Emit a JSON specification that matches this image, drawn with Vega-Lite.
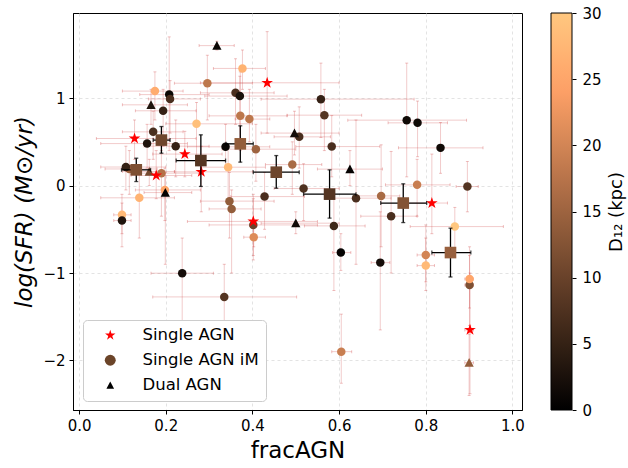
{
  "$schema": "https://vega.github.io/schema/vega-lite/v6.json",
  "width": 449,
  "height": 397,
  "autosize": {"type": "none"},
  "padding": {"left": 73, "top": 13, "right": 106, "bottom": 58},
  "background": "white",
  "config": {
    "font": "DejaVu Sans",
    "view": {"stroke": "black", "strokeWidth": 1},
    "axis": {"domainColor": "black", "tickColor": "black", "labelColor": "black", "titleColor": "black", "labelFont": "DejaVu Sans", "titleFont": "DejaVu Sans", "labelFontSize": 15, "titleFontSize": 23, "titleFontWeight": "normal", "tickSize": 4, "labelPadding": 4, "grid": true, "gridColor": "#dcdcdc", "gridDash": [3, 3], "gridWidth": 0.8},
    "legend": {"labelFont": "DejaVu Sans", "titleFont": "DejaVu Sans", "labelColor": "black", "titleColor": "black"}
  },
  "datasets": {
    "pts": [
      {"t": "Single AGN", "x": 0.128, "y": 0.538, "d": null, "xl": 0.04, "xh": 0.27, "yl": 0.30, "yh": 0.75},
      {"t": "Single AGN", "x": 0.178, "y": 0.115, "d": null, "xl": 0.12, "xh": 0.26, "yl": -0.15, "yh": 0.40},
      {"t": "Single AGN", "x": 0.244, "y": 0.36, "d": null, "xl": 0.17, "xh": 0.33, "yl": 0.10, "yh": 0.62},
      {"t": "Single AGN", "x": 0.282, "y": 0.157, "d": null, "xl": 0.22, "xh": 0.40, "yl": -0.30, "yh": 0.45},
      {"t": "Single AGN", "x": 0.434, "y": 1.175, "d": null, "xl": 0.28, "xh": 0.60, "yl": 0.60, "yh": 1.76},
      {"t": "Single AGN", "x": 0.402, "y": -0.41, "d": null, "xl": 0.25, "xh": 0.55, "yl": -0.80, "yh": -0.15},
      {"t": "Single AGN", "x": 0.814, "y": -0.20, "d": null, "xl": 0.74, "xh": 0.85, "yl": -0.55, "yh": 0.36},
      {"t": "Single AGN", "x": 0.902, "y": -1.65, "d": null, "xl": 0.89, "xh": 0.91, "yl": -2.38, "yh": -1.0},
      {"t": "Dual AGN", "x": 0.318, "y": 1.60, "d": 1, "xl": 0.277, "xh": 0.358, "yl": 1.55, "yh": 1.65},
      {"t": "Dual AGN", "x": 0.166, "y": 0.923, "d": 3, "xl": 0.10, "xh": 0.25, "yl": 0.70, "yh": 1.10},
      {"t": "Dual AGN", "x": 0.162, "y": 0.16, "d": 11, "xl": 0.10, "xh": 0.22, "yl": 0.0, "yh": 0.30},
      {"t": "Dual AGN", "x": 0.497, "y": 0.60, "d": 2, "xl": 0.42, "xh": 0.60, "yl": 0.35, "yh": 0.85},
      {"t": "Dual AGN", "x": 0.199, "y": -0.08, "d": 0.5, "xl": 0.15, "xh": 0.26, "yl": -0.90, "yh": 0.15},
      {"t": "Dual AGN", "x": 0.50, "y": -0.43, "d": 1.5, "xl": 0.42, "xh": 0.60, "yl": -0.55, "yh": -0.30},
      {"t": "Dual AGN", "x": 0.90, "y": -2.025, "d": 14, "xl": 0.89, "xh": 0.91, "yl": -2.40, "yh": -1.70},
      {"t": "Dual AGN", "x": 0.625, "y": 0.188, "d": 0.5, "xl": 0.55, "xh": 0.70, "yl": 0.0, "yh": 0.40},
      {"t": "Single AGN iM", "x": 0.377, "y": 1.339, "d": 27, "xl": 0.31, "xh": 0.43, "yl": 1.10, "yh": 1.55},
      {"t": "Single AGN iM", "x": 0.296, "y": 1.17, "d": 18, "xl": 0.22, "xh": 0.40, "yl": 0.75, "yh": 1.49},
      {"t": "Single AGN iM", "x": 0.175, "y": 1.08, "d": 26, "xl": 0.10, "xh": 0.24, "yl": 0.75, "yh": 1.30},
      {"t": "Single AGN iM", "x": 0.208, "y": 1.04, "d": 1, "xl": 0.14, "xh": 0.30, "yl": 0.40, "yh": 1.70},
      {"t": "Single AGN iM", "x": 0.21, "y": 0.99, "d": 7, "xl": 0.16, "xh": 0.28, "yl": 0.60, "yh": 1.20},
      {"t": "Single AGN iM", "x": 0.361, "y": 1.06, "d": 7, "xl": 0.28, "xh": 0.45, "yl": 0.70, "yh": 1.45},
      {"t": "Single AGN iM", "x": 0.371, "y": 1.023, "d": 2.5, "xl": 0.29, "xh": 0.48, "yl": 0.50, "yh": 1.25},
      {"t": "Single AGN iM", "x": 0.194, "y": 0.855, "d": 5, "xl": 0.13, "xh": 0.27, "yl": 0.45, "yh": 1.10},
      {"t": "Single AGN iM", "x": 0.271, "y": 0.706, "d": 29, "xl": 0.20, "xh": 0.40, "yl": 0.30, "yh": 0.95},
      {"t": "Single AGN iM", "x": 0.372, "y": 0.797, "d": 18, "xl": 0.30, "xh": 0.48, "yl": 0.40, "yh": 1.30},
      {"t": "Single AGN iM", "x": 0.393, "y": 0.76, "d": 18, "xl": 0.36, "xh": 0.44, "yl": 0.50, "yh": 1.10},
      {"t": "Single AGN iM", "x": 0.171, "y": 0.614, "d": 7, "xl": 0.10, "xh": 0.24, "yl": 0.30, "yh": 0.85},
      {"t": "Single AGN iM", "x": 0.157, "y": 0.48, "d": 3, "xl": 0.05, "xh": 0.25, "yl": 0.20, "yh": 0.70},
      {"t": "Single AGN iM", "x": 0.223, "y": 0.45, "d": 5, "xl": 0.15, "xh": 0.30, "yl": 0.10, "yh": 0.75},
      {"t": "Single AGN iM", "x": 0.338, "y": 0.443, "d": 1, "xl": 0.25, "xh": 0.44, "yl": 0.20, "yh": 0.70},
      {"t": "Single AGN iM", "x": 0.408, "y": 0.416, "d": 15, "xl": 0.33, "xh": 0.50, "yl": 0.05, "yh": 0.70},
      {"t": "Single AGN iM", "x": 0.116, "y": 0.19, "d": 15, "xl": 0.06, "xh": 0.18, "yl": -0.10, "yh": 0.40},
      {"t": "Single AGN iM", "x": 0.108, "y": 0.212, "d": 5, "xl": 0.05, "xh": 0.20, "yl": -0.05, "yh": 0.45},
      {"t": "Single AGN iM", "x": 0.19, "y": 0.142, "d": 17, "xl": 0.12, "xh": 0.28, "yl": -0.35, "yh": 0.40},
      {"t": "Single AGN iM", "x": 0.344, "y": 0.21, "d": 28, "xl": 0.28, "xh": 0.43, "yl": -0.20, "yh": 0.45},
      {"t": "Single AGN iM", "x": 0.492, "y": 0.24, "d": 16, "xl": 0.43, "xh": 0.56, "yl": -0.10, "yh": 0.50},
      {"t": "Single AGN iM", "x": 0.518, "y": -0.034, "d": 7.5, "xl": 0.45, "xh": 0.60, "yl": -0.40, "yh": 0.25},
      {"t": "Single AGN iM", "x": 0.198, "y": -0.05, "d": 25, "xl": 0.13, "xh": 0.28, "yl": -0.40, "yh": 0.20},
      {"t": "Single AGN iM", "x": 0.139, "y": -0.14, "d": 27, "xl": 0.05, "xh": 0.22, "yl": -0.60, "yh": 0.15},
      {"t": "Single AGN iM", "x": 0.428, "y": -0.126, "d": 7, "xl": 0.35, "xh": 0.52, "yl": -0.50, "yh": 0.15},
      {"t": "Single AGN iM", "x": 0.347, "y": -0.178, "d": 14, "xl": 0.28, "xh": 0.45, "yl": -0.60, "yh": 0.15},
      {"t": "Single AGN iM", "x": 0.352, "y": -0.267, "d": 14, "xl": 0.30, "xh": 0.42, "yl": -1.00, "yh": -0.05},
      {"t": "Single AGN iM", "x": 0.558, "y": 0.988, "d": 5, "xl": 0.42, "xh": 0.773, "yl": 0.55, "yh": 1.40},
      {"t": "Single AGN iM", "x": 0.566, "y": 0.805, "d": 8, "xl": 0.48, "xh": 0.652, "yl": 0.40, "yh": 1.10},
      {"t": "Single AGN iM", "x": 0.508, "y": 0.557, "d": 7, "xl": 0.45, "xh": 0.58, "yl": 0.20, "yh": 0.90},
      {"t": "Single AGN iM", "x": 0.583, "y": 0.446, "d": 7, "xl": 0.50, "xh": 0.694, "yl": 0.10, "yh": 0.80},
      {"t": "Single AGN iM", "x": 0.756, "y": 0.748, "d": 1.5, "xl": 0.62, "xh": 0.894, "yl": 0.10, "yh": 1.40},
      {"t": "Single AGN iM", "x": 0.781, "y": 0.717, "d": 1.5, "xl": 0.713, "xh": 0.85, "yl": 0.33, "yh": 0.966},
      {"t": "Single AGN iM", "x": 0.834, "y": 0.431, "d": 1.5, "xl": 0.737, "xh": 0.932, "yl": 0.14, "yh": 0.72},
      {"t": "Single AGN iM", "x": 0.639, "y": -0.144, "d": 7, "xl": 0.57, "xh": 0.72, "yl": -0.90, "yh": 0.75},
      {"t": "Single AGN iM", "x": 0.697, "y": -0.118, "d": 16, "xl": 0.64, "xh": 0.74, "yl": -0.70, "yh": 0.466},
      {"t": "Single AGN iM", "x": 0.78, "y": 0.008, "d": 19, "xl": 0.707, "xh": 0.856, "yl": -0.35, "yh": 0.30},
      {"t": "Single AGN iM", "x": 0.896, "y": -0.011, "d": 8, "xl": 0.87, "xh": 0.921, "yl": -0.30, "yh": 0.275},
      {"t": "Single AGN iM", "x": 0.72, "y": -0.35, "d": 7, "xl": 0.65, "xh": 0.78, "yl": -1.00, "yh": 0.39},
      {"t": "Single AGN iM", "x": 0.588, "y": -0.461, "d": 6, "xl": 0.52, "xh": 0.66, "yl": -1.20, "yh": -0.10},
      {"t": "Single AGN iM", "x": 0.867, "y": -0.469, "d": 30, "xl": 0.764, "xh": 0.979, "yl": -0.75, "yh": -0.25},
      {"t": "Single AGN iM", "x": 0.604, "y": -0.766, "d": 0.5, "xl": 0.585, "xh": 0.627, "yl": -0.97, "yh": -0.55},
      {"t": "Single AGN iM", "x": 0.695, "y": -0.881, "d": 2, "xl": 0.674, "xh": 0.717, "yl": -1.65, "yh": -0.30},
      {"t": "Single AGN iM", "x": 0.80, "y": -0.793, "d": 20, "xl": 0.78, "xh": 0.82, "yl": -1.10, "yh": -0.45},
      {"t": "Single AGN iM", "x": 0.80, "y": -0.915, "d": 28, "xl": 0.78, "xh": 0.82, "yl": -1.20, "yh": -0.60},
      {"t": "Single AGN iM", "x": 0.901, "y": -1.136, "d": 12, "xl": 0.89, "xh": 0.91, "yl": -1.60, "yh": -0.80},
      {"t": "Single AGN iM", "x": 0.901, "y": -1.067, "d": 25, "xl": 0.89, "xh": 0.91, "yl": -1.40, "yh": -0.70},
      {"t": "Single AGN iM", "x": 0.605, "y": -1.899, "d": 19, "xl": 0.583, "xh": 0.629, "yl": -2.26, "yh": -1.47},
      {"t": "Single AGN iM", "x": 0.099, "y": -0.335, "d": 28, "xl": 0.08, "xh": 0.12, "yl": -0.55, "yh": -0.10},
      {"t": "Single AGN iM", "x": 0.099, "y": -0.40, "d": 3, "xl": 0.08, "xh": 0.12, "yl": -0.70, "yh": -0.20},
      {"t": "Single AGN iM", "x": 0.402, "y": -0.45, "d": 10, "xl": 0.30, "xh": 0.55, "yl": -0.85, "yh": -0.10},
      {"t": "Single AGN iM", "x": 0.403, "y": -0.59, "d": 21, "xl": 0.38, "xh": 0.43, "yl": -0.70, "yh": -0.45},
      {"t": "Single AGN iM", "x": 0.238, "y": -1.002, "d": 2, "xl": 0.166, "xh": 0.31, "yl": -1.90, "yh": -0.60},
      {"t": "Single AGN iM", "x": 0.335, "y": -1.273, "d": 8, "xl": 0.17, "xh": 0.502, "yl": -1.60, "yh": -0.90}
    ],
    "bins": [
      {"x": 0.132, "y": 0.18, "d": 12, "xl": 0.098, "xh": 0.165, "yl": 0.046, "yh": 0.313},
      {"x": 0.19, "y": 0.52, "d": 10.5, "xl": 0.171, "xh": 0.21, "yl": 0.37, "yh": 0.675},
      {"x": 0.281, "y": 0.286, "d": 8, "xl": 0.224, "xh": 0.338, "yl": -0.01, "yh": 0.58},
      {"x": 0.372, "y": 0.477, "d": 14, "xl": 0.339, "xh": 0.402, "yl": 0.268, "yh": 0.683},
      {"x": 0.455, "y": 0.153, "d": 10.5, "xl": 0.402, "xh": 0.508, "yl": -0.03, "yh": 0.343},
      {"x": 0.578, "y": -0.098, "d": 8, "xl": 0.518, "xh": 0.639, "yl": -0.373, "yh": 0.18},
      {"x": 0.748, "y": -0.20, "d": 12.5, "xl": 0.696, "xh": 0.802, "yl": -0.423, "yh": 0.02},
      {"x": 0.857, "y": -0.766, "d": 14.5, "xl": 0.814, "xh": 0.904, "yl": -1.045, "yh": -0.487}
    ]
  },
  "layer": [
    {
      "layer": [
        {
          "data": {"name": "pts"},
          "layer": [
            {
              "mark": {"type": "rule", "color": "#cc3333", "opacity": 0.25, "strokeWidth": 1},
              "encoding": {
                "x": {"field": "xl", "type": "quantitative", "title": "fracAGN", "scale": {"domain": [-0.014, 1.022], "nice": false, "zero": false}, "axis": {"values": [0, 0.2, 0.4, 0.6, 0.8, 1.0], "format": ".1f", "titlePadding": 6}},
                "x2": {"field": "xh"},
                "y": {"field": "y", "type": "quantitative", "title": "log(SFR) (M⊙/yr)", "scale": {"domain": [-2.566, 1.973], "nice": false, "zero": false}, "axis": {"orient": "left", "values": [-2, -1, 0, 1], "format": "d", "titleFontStyle": "italic", "titlePadding": 6}}
              }
            },
            {
              "mark": {"type": "rule", "color": "#cc3333", "opacity": 0.25, "strokeWidth": 1},
              "encoding": {
                "x": {"field": "x", "type": "quantitative", "title": "fracAGN"},
                "y": {"field": "yl", "type": "quantitative", "title": "log(SFR) (M⊙/yr)"},
                "y2": {"field": "yh"}
              }
            },
            {
              "transform": [{"fold": ["xl", "xh"], "as": ["k", "v"]}],
              "mark": {"type": "tick", "orient": "vertical", "color": "#cc3333", "opacity": 0.3, "size": 3, "thickness": 1},
              "encoding": {
                "x": {"field": "v", "type": "quantitative", "title": "fracAGN"},
                "y": {"field": "y", "type": "quantitative", "title": "log(SFR) (M⊙/yr)"}
              }
            },
            {
              "transform": [{"fold": ["yl", "yh"], "as": ["k", "v"]}],
              "mark": {"type": "tick", "orient": "horizontal", "color": "#cc3333", "opacity": 0.3, "size": 3, "thickness": 1},
              "encoding": {
                "x": {"field": "x", "type": "quantitative", "title": "fracAGN"},
                "y": {"field": "v", "type": "quantitative", "title": "log(SFR) (M⊙/yr)"}
              }
            },
            {
              "transform": [{"filter": "datum.t === 'Single AGN iM'"}],
              "mark": {"type": "point", "shape": "circle", "filled": true, "opacity": 1, "size": 72, "strokeWidth": 0},
              "encoding": {
                "x": {"field": "x", "type": "quantitative", "title": "fracAGN"},
                "y": {"field": "y", "type": "quantitative", "title": "log(SFR) (M⊙/yr)"},
                "color": {"field": "d", "type": "quantitative", "scale": {"type": "linear", "domain": [-0.01, 24.2857, 30.01], "range": ["#000000", "#ffa167", "#ffc77f"], "interpolate": "rgb"},
                  "legend": {"orient": "none", "legendX": 478, "legendY": 0, "direction": "vertical", "gradientLength": 397, "gradientThickness": 21, "gradientStrokeColor": "black", "gradientStrokeWidth": 1, "labelOpacity": 0, "labelExpr": "''", "labelFontSize": 1, "title": null}}
              }
            },
            {
              "transform": [{"filter": "datum.t === 'Dual AGN'"}],
              "mark": {"type": "point", "shape": "M0,-1L1,0.9L-1,0.9Z", "filled": true, "opacity": 1, "size": 85, "strokeWidth": 0},
              "encoding": {
                "x": {"field": "x", "type": "quantitative", "title": "fracAGN"},
                "y": {"field": "y", "type": "quantitative", "title": "log(SFR) (M⊙/yr)"},
                "color": {"field": "d", "type": "quantitative"}
              }
            }
          ]
        },
        {
          "data": {"name": "pts"},
          "transform": [{"filter": "datum.t === 'Single AGN'"}],
          "mark": {"type": "point", "filled": true, "opacity": 1, "size": 150, "strokeWidth": 0},
          "encoding": {
            "x": {"field": "x", "type": "quantitative", "title": "fracAGN"},
            "y": {"field": "y", "type": "quantitative", "title": "log(SFR) (M⊙/yr)"},
            "color": {"field": "t", "type": "nominal", "scale": {"domain": ["Single AGN", "Single AGN iM", "Dual AGN"], "range": ["#ff0000", "#6b4429", "#000000"]},
              "legend": {"orient": "none", "legendX": 10, "legendY": 307, "title": null, "labelFontSize": 16.5, "symbolSize": 120, "symbolStrokeWidth": 0, "labelOffset": 24, "rowPadding": 8, "padding": 7, "strokeColor": "#cccccc", "fillColor": "white", "cornerRadius": 4, "symbolOffset": 12}},
            "shape": {"field": "t", "type": "nominal", "scale": {"domain": ["Single AGN", "Single AGN iM", "Dual AGN"], "range": ["M0,-1L0.2245,-0.309L0.9511,-0.309L0.3633,0.118L0.5878,0.809L0,0.382L-0.5878,0.809L-0.3633,0.118L-0.9511,-0.309L-0.2245,-0.309Z", "circle", "M0,-0.7L0.7,0.65L-0.7,0.65Z"]},
              "legend": {"orient": "none", "legendX": 10, "legendY": 307, "title": null, "labelFontSize": 16.5, "symbolSize": 120, "symbolStrokeWidth": 0, "labelOffset": 24, "rowPadding": 8, "padding": 7, "strokeColor": "#cccccc", "fillColor": "white", "cornerRadius": 4, "symbolOffset": 12}}
          }
        },
        {
          "data": {"name": "bins"},
          "layer": [
            {
              "mark": {"type": "rule", "color": "black", "strokeWidth": 1.3},
              "encoding": {
                "x": {"field": "xl", "type": "quantitative", "title": "fracAGN"},
                "x2": {"field": "xh"},
                "y": {"field": "y", "type": "quantitative", "title": "log(SFR) (M⊙/yr)"}
              }
            },
            {
              "mark": {"type": "rule", "color": "black", "strokeWidth": 1.3},
              "encoding": {
                "x": {"field": "x", "type": "quantitative", "title": "fracAGN"},
                "y": {"field": "yl", "type": "quantitative", "title": "log(SFR) (M⊙/yr)"},
                "y2": {"field": "yh"}
              }
            },
            {
              "transform": [{"fold": ["xl", "xh"], "as": ["k", "v"]}],
              "mark": {"type": "tick", "orient": "vertical", "color": "black", "size": 4, "thickness": 1.3},
              "encoding": {
                "x": {"field": "v", "type": "quantitative", "title": "fracAGN"},
                "y": {"field": "y", "type": "quantitative", "title": "log(SFR) (M⊙/yr)"}
              }
            },
            {
              "transform": [{"fold": ["yl", "yh"], "as": ["k", "v"]}],
              "mark": {"type": "tick", "orient": "horizontal", "color": "black", "size": 4, "thickness": 1.3},
              "encoding": {
                "x": {"field": "x", "type": "quantitative", "title": "fracAGN"},
                "y": {"field": "v", "type": "quantitative", "title": "log(SFR) (M⊙/yr)"}
              }
            },
            {
              "mark": {"type": "point", "shape": "square", "filled": true, "opacity": 1, "size": 135, "strokeWidth": 0},
              "encoding": {
                "x": {"field": "x", "type": "quantitative", "title": "fracAGN"},
                "y": {"field": "y", "type": "quantitative", "title": "log(SFR) (M⊙/yr)"},
                "color": {"field": "d", "type": "quantitative", "scale": {"type": "linear", "domain": [-0.01, 24.2857, 30.01], "range": ["#000000", "#ffa167", "#ffc77f"], "interpolate": "rgb"}, "legend": null}
              }
            }
          ]
        }
      ],
      "resolve": {"scale": {"color": "independent", "shape": "independent"}, "legend": {"color": "independent", "shape": "independent"}}
    },
    {
      "data": {"name": "bins"},
      "mark": {"type": "point", "opacity": 0},
      "encoding": {
        "x": {"field": "x", "type": "quantitative", "title": "fracAGN"},
        "y": {"field": "d", "type": "quantitative", "title": "D₁₂ (kpc)", "scale": {"domain": [0, 30], "nice": false, "zero": false},
          "axis": {"orient": "right", "offset": 50, "values": [0, 5, 10, 15, 20, 25, 30], "grid": false, "domain": false, "tickSize": 4, "labelPadding": 6, "labelFlush": false, "titleFontSize": 18, "titleFontStyle": "normal", "titleAngle": 270, "titleBaseline": "top", "titlePadding": 6}}
      }
    }
  ],
  "resolve": {"scale": {"y": "independent"}, "axis": {"y": "independent"}}
}
